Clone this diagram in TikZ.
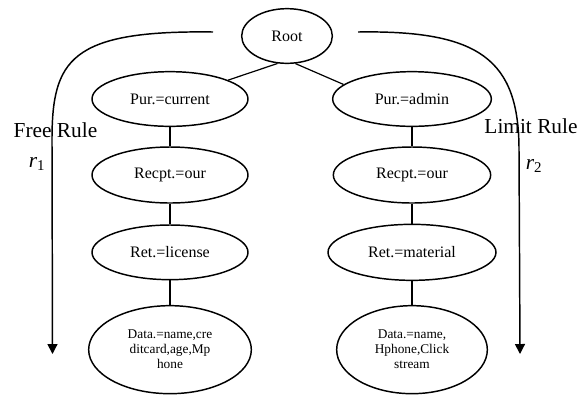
\documentclass[tikz,border=0pt]{standalone}
\usepackage{fontspec}
\setmainfont{Liberation Serif}
\usetikzlibrary{shapes.geometric, arrows.meta}

\begin{document}
\begin{tikzpicture} [
						x=0.75pt, y=-0.75pt,
						node distance=57pt,
						line width=0.9pt,
						cond/.style={ellipse, draw, line width=1.1pt, inner sep=0pt,
							minimum width=117pt, minimum height=41pt,
							font=\fontsize{12}{14}\selectfont},
						datacond/.style={cond, minimum height=66pt, align=center,
							font=\fontsize{10}{11.25}\selectfont},
						rulelbl/.style={inner sep=0pt, font=\fontsize{16}{18}\selectfont},
						rule/.style={line width=1.1pt, -{Triangle[length=7.5pt,width=7.5pt]}}
					]

\useasboundingbox (0,0) rectangle (588,394);

\node (root) [cond, minimum width=68pt] at (287,36) {Root};

% left branch
\node (purL) [cond] at (170,99) {Pur.=current};
\node (recL) [cond, below of=purL, minimum height=42pt] {Recpt.=our};
\node (retL) [cond, below of=recL, node distance=58pt] {Ret.=license};
\node (dataL) [datacond, below of=retL, node distance=73pt, minimum width=122pt] {Data.=name,cre\\ditcard,age,Mp\\hone};

% right branch
\node (purR) [cond, minimum width=119pt] at (412,99) {Pur.=admin};
\node (recR) [cond, below of=purR, minimum width=118pt, minimum height=42pt] {Recpt.=our};
\node (retR) [cond, below of=recR, node distance=58pt, minimum width=126pt, minimum height=42pt] {Ret.=material};
\node (dataR) [datacond, below of=retR, node distance=73pt, minimum width=113pt] {Data.=name,\\Hphone,Click\\stream};

\path
	(root.251) edge (purL.18)
	(root.287) edge (purR.168)
	(purL) edge (recL)
	(recL) edge (retL)
	(retL) edge (dataL)
	(purR) edge (recR)
	(recR) edge (retR)
	(retR) edge (dataR);

% rules
\coordinate (freeS) at (213,32);
\coordinate (freeE) at (52.5,354);
\coordinate (limS) at (358,32);
\coordinate (limE) at (520,354);

\draw[rule] (freeS) .. controls (70,30) and (52,60) .. (52,140) -- (freeE);
\draw[rule] (limS) .. controls (480,30) and (519,60) .. (519,150) -- (limE);

\node (freelbl) [rulelbl] at (55.5,130) {Free Rule};
\node (r1) [rulelbl] at (37,164) {\textit{r}\textsubscript{1}};
\node (limlbl) [rulelbl] at (531,126) {Limit Rule};
\node (r2) [rulelbl] at (534,166) {\textit{r}\textsubscript{2}};
\end{tikzpicture}
\end{document}
